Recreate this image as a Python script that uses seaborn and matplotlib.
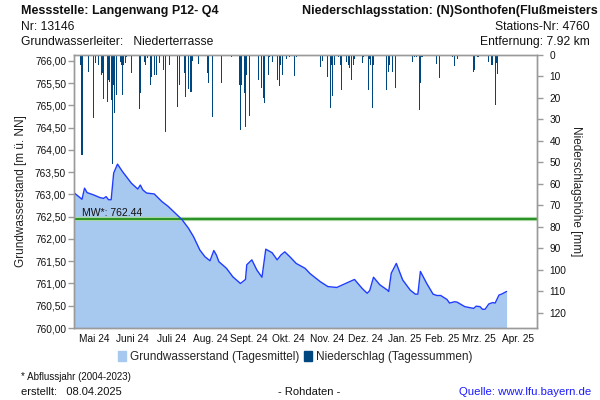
import matplotlib
matplotlib.use("Agg")
import matplotlib.pyplot as plt
from matplotlib.patches import Patch
from matplotlib.ticker import FuncFormatter, MultipleLocator
import seaborn as sns
import pandas as pd

# ---------------- data ----------------
gw_dates = ["2024-05-01", "2024-05-07", "2024-05-09", "2024-05-11", "2024-05-16", "2024-05-21",
            "2024-05-24", "2024-05-26", "2024-05-28", "2024-05-30", "2024-06-01", "2024-06-04",
            "2024-06-08", "2024-06-15", "2024-06-20", "2024-06-22", "2024-06-24", "2024-06-27",
            "2024-07-03", "2024-07-09", "2024-07-14", "2024-07-21", "2024-07-25", "2024-07-30",
            "2024-08-03", "2024-08-08", "2024-08-12", "2024-08-16", "2024-08-19", "2024-08-21",
            "2024-08-23", "2024-08-29", "2024-09-03", "2024-09-09", "2024-09-13", "2024-09-14",
            "2024-09-18", "2024-09-22", "2024-09-26", "2024-09-29", "2024-10-04", "2024-10-08",
            "2024-10-11", "2024-10-14", "2024-10-18", "2024-10-23", "2024-10-30", "2024-11-03",
            "2024-11-11", "2024-11-17", "2024-11-24", "2024-12-08", "2024-12-14", "2024-12-18",
            "2024-12-20", "2024-12-23", "2024-12-28", "2025-01-03", "2025-01-04", "2025-01-06",
            "2025-01-10", "2025-01-15", "2025-01-21", "2025-01-25", "2025-01-27", "2025-01-29",
            "2025-02-03", "2025-02-08", "2025-02-11", "2025-02-14", "2025-02-19", "2025-02-21",
            "2025-02-25", "2025-02-27", "2025-03-05", "2025-03-12", "2025-03-14", "2025-03-17",
            "2025-03-19", "2025-03-21", "2025-03-24", "2025-03-27", "2025-03-29", "2025-04-01",
            "2025-04-03", "2025-04-07"]
gw_level = [763.03, 762.89, 763.14, 763.04, 762.99, 762.93,
            762.91, 762.95, 762.88, 762.88, 763.48, 763.68,
            763.51, 763.25, 763.12, 763.21, 763.10, 763.03,
            763.01, 762.84, 762.73, 762.54, 762.43, 762.24,
            762.05, 761.75, 761.60, 761.51, 761.74, 761.64,
            761.49, 761.34, 761.15, 761.00, 761.09, 761.42,
            761.53, 761.30, 761.14, 761.77, 761.69, 761.53,
            761.64, 761.71, 761.60, 761.45, 761.34, 761.22,
            761.04, 760.93, 760.91, 761.09, 760.89, 760.78,
            760.84, 761.14, 760.97, 760.85, 760.82, 761.23,
            761.45, 761.08, 760.85, 760.76, 760.76, 761.27,
            761.00, 760.76, 760.73, 760.73, 760.64, 760.56,
            760.59, 760.58, 760.48, 760.44, 760.49, 760.48,
            760.42, 760.42, 760.54, 760.57, 760.56, 760.74,
            760.76, 760.82]

pr_dates = ["2024-05-01", "2024-05-06", "2024-05-07", "2024-05-12", "2024-05-16", "2024-05-18",
            "2024-05-20", "2024-05-22", "2024-05-23", "2024-05-24", "2024-05-27", "2024-05-28",
            "2024-05-29", "2024-05-30", "2024-05-31", "2024-06-01", "2024-06-02", "2024-06-03",
            "2024-06-06", "2024-06-07", "2024-06-08", "2024-06-09", "2024-06-10", "2024-06-11",
            "2024-06-15", "2024-06-21", "2024-06-22", "2024-06-25", "2024-06-26", "2024-06-28",
            "2024-06-30", "2024-07-01", "2024-07-03", "2024-07-05", "2024-07-07", "2024-07-10",
            "2024-07-12", "2024-07-15", "2024-07-21", "2024-07-23", "2024-07-27", "2024-07-28",
            "2024-07-30", "2024-08-01", "2024-08-02", "2024-08-07", "2024-08-14", "2024-08-15",
            "2024-08-18", "2024-08-25", "2024-09-02", "2024-09-08", "2024-09-09", "2024-09-10",
            "2024-09-12", "2024-09-13", "2024-09-14", "2024-09-16", "2024-09-23", "2024-09-26",
            "2024-09-27", "2024-09-28", "2024-10-01", "2024-10-02", "2024-10-04", "2024-10-08",
            "2024-10-10", "2024-10-11", "2024-10-12", "2024-10-15", "2024-10-18", "2024-10-22",
            "2024-10-23", "2024-11-11", "2024-11-13", "2024-11-17", "2024-11-19", "2024-11-20",
            "2024-11-21", "2024-11-22", "2024-11-25", "2024-11-27", "2024-11-28", "2024-12-02",
            "2024-12-03", "2024-12-04", "2024-12-06", "2024-12-07", "2024-12-08", "2024-12-14",
            "2024-12-15", "2024-12-19", "2024-12-20", "2024-12-21", "2024-12-22", "2024-12-23",
            "2025-01-02", "2025-01-04", "2025-01-05", "2025-01-07", "2025-01-09", "2025-01-23",
            "2025-01-24", "2025-01-26", "2025-01-28", "2025-01-29", "2025-01-30", "2025-01-31",
            "2025-02-11", "2025-02-13", "2025-02-23", "2025-02-25", "2025-02-27", "2025-03-12",
            "2025-03-13", "2025-03-15", "2025-03-16", "2025-03-24", "2025-03-26", "2025-03-27",
            "2025-03-29", "2025-03-30", "2025-03-31"]
pr_mm = [0.8, 4.7, 46.6, 7.8, 29.5, 3.9,
         4.7, 9.3, 8.5, 20.6, 21.7, 11.6,
         12.4, 21.0, 50.8, 14.0, 26.9, 18.6,
         3.1, 4.7, 18.6, 4.7, 3.9, 1.0,
         8.5, 25.3, 17.8, 3.1, 4.7, 1.6,
         14.0, 10.1, 9.3, 9.3, 3.9, 7.0,
         35.9, 4.7, 24.0, 14.0, 8.2, 19.4,
         16.0, 17.1, 3.0, 4.2, 8.5, 12.9,
         28.7, 13.2, 1.0, 14.0, 34.9, 14.0,
         17.5, 33.4, 9.3, 28.4, 11.6, 15.5,
         20.2, 22.5, 9.3, 1.0, 3.1, 11.6,
         14.4, 4.7, 9.3, 2.0, 1.0, 9.8,
         1.0, 5.4, 3.0, 10.4, 24.8, 4.7,
         19.0, 4.7, 1.0, 4.7, 16.3, 3.1,
         4.7, 6.2, 11.6, 4.7, 2.0, 3.9,
         1.0, 16.3, 2.0, 4.7, 24.8, 4.7,
         16.3, 7.8, 4.7, 7.8, 15.5, 3.1,
         1.0, 0.8, 25.6, 13.2, 0.8, 1.0,
         4.2, 10.9, 1.0, 5.0, 2.0, 7.8,
         7.0, 1.0, 1.0, 3.1, 4.7, 4.7,
         23.3, 3.9, 8.8]

mean_level = 762.44
month_labels = ["Mai 24", "Juni 24", "Juli 24", "Aug. 24", "Sept. 24", "Okt. 24", "Nov. 24",
                "Dez. 24", "Jan. 25", "Feb. 25", "Mrz. 25", "Apr. 25"]

gw = pd.DataFrame({"date": pd.to_datetime(gw_dates), "level": gw_level})
pr = pd.DataFrame({"date": pd.to_datetime(pr_dates), "mm": pr_mm})

# ---------------- style ----------------
sns.set_style("white")
plt.rcParams["font.family"] = ["Liberation Sans", "DejaVu Sans"]

FILL = "#a7c8ef"
LINE = "#1f3cff"
BAR = "#00467f"
GREEN = "#1e8c1e"
SPINE = "#9a9a9a"
TXT = "#111111"

fig = plt.figure(figsize=(6, 4), dpi=100)
ax = fig.add_axes([0.124, 0.18, 0.771, 0.6825])

x0 = pd.Timestamp("2024-05-01")
x1 = pd.Timestamp("2025-05-01")

ax.fill_between(gw["date"], 760, gw["level"], color=FILL, lw=0, zorder=1)
sns.lineplot(data=gw, x="date", y="level", ax=ax, color=LINE, lw=1.0, zorder=3)
ax.axhline(mean_level, color="#a8d8a0", lw=3.0, zorder=2)
ax.axhline(mean_level, color=GREEN, lw=1.3, zorder=2)
ax.text(pd.Timestamp("2024-05-07"), mean_level + 0.03, "MW*: 762.44", fontsize=7.5,
        color=TXT, va="bottom", ha="left", zorder=4)

ax.set_xlim(x0, x1)
ax.set_ylim(760, 766.13)
ax.yaxis.set_major_locator(MultipleLocator(0.5))
ax.yaxis.set_major_formatter(FuncFormatter(lambda v, p: f"{v:.2f}".replace(".", ",")))
ax.set_xlabel("")
ax.set_ylabel("Grundwasserstand [m ü. NN]", fontsize=8.5, color="#222222", labelpad=6)

# month ticks at boundaries, labels in the middle
month_starts = pd.date_range("2024-05-01", "2025-05-01", freq="MS")
mids = [a + (b - a) / 2 for a, b in zip(month_starts[:-1], month_starts[1:])]
ax.set_xticks(month_starts)
ax.set_xticklabels([])
ax.set_xticks(mids, minor=True)
ax.set_xticklabels(month_labels, minor=True, fontsize=7.3, color=TXT)
ax.tick_params(axis="x", which="minor", length=0, pad=4)
ax.tick_params(axis="x", which="major", length=4, color=SPINE, width=1, direction="out")
ax.tick_params(axis="y", length=4, color=SPINE, width=1, direction="out", labelsize=7.3,
               labelcolor=TXT, pad=2)

for s in ax.spines.values():
    s.set_color(SPINE)
    s.set_linewidth(1.0)

# precipitation on twin axis
ax2 = ax.twinx()
ax2.bar(pr["date"], pr["mm"], width=0.8, color=BAR, lw=0, align="center", zorder=2)
ax2.set_ylim(127, 0)
ax2.set_xlim(x0, x1)
ax2.yaxis.set_major_locator(MultipleLocator(10))
ax2.set_ylabel("Niederschlagshöhe [mm]", fontsize=8.5, color="#222222", rotation=-90,
               labelpad=11)
ax2.tick_params(axis="y", length=4, color=SPINE, width=1, direction="out", labelsize=7.3,
                labelcolor=TXT, pad=5)
for s in ax2.spines.values():
    s.set_color(SPINE)
    s.set_linewidth(1.0)
ax2.grid(False)

# legend
handles = [Patch(facecolor=FILL, edgecolor=FILL, label="Grundwasserstand (Tagesmittel)"),
           Patch(facecolor=BAR, edgecolor=BAR, label="Niederschlag (Tagessummen)")]
fig.legend(handles=handles, loc="center", bbox_to_anchor=(0.492, 0.107), ncol=2,
           frameon=False, fontsize=8.5, handlelength=0.7, handleheight=0.9,
           handletextpad=0.3, columnspacing=0.4)

# header texts
fig.text(0.035, 0.973, "Messstelle: Langenwang P12- Q4", fontsize=9, fontweight="bold",
         ha="left", va="center", color=TXT)
fig.text(0.035, 0.933, "Nr: 13146", fontsize=8.7, ha="left", va="center", color=TXT)
fig.text(0.035, 0.895, "Grundwasserleiter:   Niederterrasse", fontsize=8.7, ha="left",
         va="center", color=TXT)
fig.text(0.997, 0.973, "Niederschlagsstation: (N)Sonthofen(Flußmeisters", fontsize=9,
         fontweight="bold", ha="right", va="center", color=TXT)
fig.text(0.983, 0.933, "Stations-Nr: 4760", fontsize=8.7, ha="right", va="center", color=TXT)
fig.text(0.983, 0.895, "Entfernung: 7.92 km", fontsize=8.7, ha="right", va="center", color=TXT)

# footer texts
fig.text(0.035, 0.058, "* Abflussjahr (2004-2023)", fontsize=7, ha="left", va="center",
         color=TXT)
fig.text(0.035, 0.021, "erstellt:   08.04.2025", fontsize=8, ha="left", va="center", color=TXT)
fig.text(0.516, 0.021, "- Rohdaten -", fontsize=8, ha="center", va="center", color=TXT)
fig.text(0.985, 0.021, "Quelle: www.lfu.bayern.de", fontsize=8.2, ha="right", va="center",
         color="#1a1aff")

fig.savefig("out.png", dpi=100)
